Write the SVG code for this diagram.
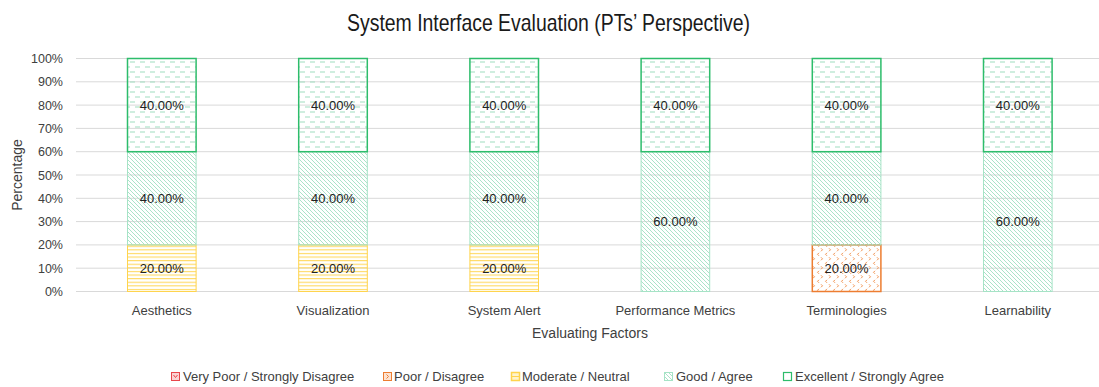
<svg xmlns="http://www.w3.org/2000/svg" width="1099" height="387" viewBox="0 0 1099 387">
<defs>
<pattern id="pExc" patternUnits="userSpaceOnUse" width="10" height="10">
<rect x="0" y="1.5" width="5" height="1" fill="#9FDDBF"/>
<rect x="5" y="6.5" width="5" height="1" fill="#9FDDBF"/>
</pattern>
<pattern id="pGood" patternUnits="userSpaceOnUse" width="4" height="4">
<path d="M0,0 L4,4 M-1,3 L1,5 M3,-1 L5,1" stroke="#A2E0C3" stroke-width="0.9"/>
</pattern>
<pattern id="pMod" patternUnits="userSpaceOnUse" width="4" height="3.6">
<rect x="0" y="1" width="4" height="1" fill="#FFD54F"/>
</pattern>
<pattern id="pPoor" patternUnits="userSpaceOnUse" width="8" height="9">
<path d="M3,0.8 L1.5,2.3 L3,3.8 M5,5.3 L6.5,6.8 L5,8.3" fill="none" stroke="#F0914E" stroke-width="1"/>
</pattern>
<pattern id="pVPoor" patternUnits="userSpaceOnUse" width="8" height="8">
<rect width="8" height="8" fill="#FBD3D3"/>
</pattern>
</defs>
<style>
.grid{stroke:#D9D9D9;stroke-width:1}
.tick{font-family:"Liberation Sans",Arial,sans-serif;font-size:12.5px;fill:#404040;text-anchor:end}
.cat{font-family:"Liberation Sans",Arial,sans-serif;font-size:13px;fill:#404040;text-anchor:middle}
.axt{font-family:"Liberation Sans",Arial,sans-serif;font-size:14px;fill:#404040;text-anchor:middle}
.dl{font-family:"Liberation Sans",Arial,sans-serif;font-size:13px;fill:#222;text-anchor:middle}
.leg{font-family:"Liberation Sans",Arial,sans-serif;font-size:13px;fill:#404040}
.exc{fill:url(#pExc);stroke:#2DBD6B;stroke-width:1.5}
.good{fill:url(#pGood);stroke:#A6E3C6;stroke-width:1}
.mod{fill:url(#pMod);stroke:#FFD44D;stroke-width:1}
.poor{fill:url(#pPoor);stroke:#ED7D31;stroke-width:1.5}
.vpoor{fill:url(#pVPoor);stroke:#E8474C;stroke-width:1}
</style>
<rect width="1099" height="387" fill="#FFFFFF"/>
<text x="548.5" y="30.5" font-family="'Liberation Sans',Arial,sans-serif" font-size="24" fill="#1a1a1a" text-anchor="middle" textLength="403" lengthAdjust="spacingAndGlyphs">System Interface Evaluation (PTs’ Perspective)</text>
<g id="grid">
<line class="grid" x1="76" y1="58.5" x2="1099" y2="58.5"/>
<line class="grid" x1="76" y1="81.8" x2="1099" y2="81.8"/>
<line class="grid" x1="76" y1="105.1" x2="1099" y2="105.1"/>
<line class="grid" x1="76" y1="128.4" x2="1099" y2="128.4"/>
<line class="grid" x1="76" y1="151.7" x2="1099" y2="151.7"/>
<line class="grid" x1="76" y1="175" x2="1099" y2="175"/>
<line class="grid" x1="76" y1="198.3" x2="1099" y2="198.3"/>
<line class="grid" x1="76" y1="221.6" x2="1099" y2="221.6"/>
<line class="grid" x1="76" y1="244.9" x2="1099" y2="244.9"/>
<line class="grid" x1="76" y1="268.2" x2="1099" y2="268.2"/>
<line class="grid" x1="76" y1="291.5" x2="1099" y2="291.5"/>
</g>
<g id="y-axis">
<text class="tick" x="63" y="63">100%</text>
<text class="tick" x="63" y="86.3">90%</text>
<text class="tick" x="63" y="109.6">80%</text>
<text class="tick" x="63" y="132.9">70%</text>
<text class="tick" x="63" y="156.2">60%</text>
<text class="tick" x="63" y="179.5">50%</text>
<text class="tick" x="63" y="202.8">40%</text>
<text class="tick" x="63" y="226.1">30%</text>
<text class="tick" x="63" y="249.4">20%</text>
<text class="tick" x="63" y="272.7">10%</text>
<text class="tick" x="63" y="296">0%</text>
<text class="axt" transform="translate(22,175) rotate(-90)">Percentage</text>
</g>
<g id="x-axis">
<text class="cat" x="161.8" y="315">Aesthetics</text>
<text class="cat" x="333" y="315">Visualization</text>
<text class="cat" x="504.2" y="315">System Alert</text>
<text class="cat" x="675.4" y="315">Performance Metrics</text>
<text class="cat" x="846.6" y="315">Terminologies</text>
<text class="cat" x="1017.8" y="315">Learnability</text>
<text class="axt" x="590" y="338">Evaluating Factors</text>
</g>
<g id="bar-aesthetics">
<rect class="mod" x="127.5" y="244.9" width="68.6" height="46.6"/>
<rect class="good" x="127.5" y="151.7" width="68.6" height="93.2"/>
<rect class="exc" x="127.5" y="58.5" width="68.6" height="93.2"/>
<text class="dl" x="161.8" y="272.8">20.00%</text>
<text class="dl" x="161.8" y="202.9">40.00%</text>
<text class="dl" x="161.8" y="109.7">40.00%</text>
</g>
<g id="bar-visualization">
<rect class="mod" x="298.7" y="244.9" width="68.6" height="46.6"/>
<rect class="good" x="298.7" y="151.7" width="68.6" height="93.2"/>
<rect class="exc" x="298.7" y="58.5" width="68.6" height="93.2"/>
<text class="dl" x="333" y="272.8">20.00%</text>
<text class="dl" x="333" y="202.9">40.00%</text>
<text class="dl" x="333" y="109.7">40.00%</text>
</g>
<g id="bar-system-alert">
<rect class="mod" x="469.9" y="244.9" width="68.6" height="46.6"/>
<rect class="good" x="469.9" y="151.7" width="68.6" height="93.2"/>
<rect class="exc" x="469.9" y="58.5" width="68.6" height="93.2"/>
<text class="dl" x="504.2" y="272.8">20.00%</text>
<text class="dl" x="504.2" y="202.9">40.00%</text>
<text class="dl" x="504.2" y="109.7">40.00%</text>
</g>
<g id="bar-performance-metrics">
<rect class="good" x="641.1" y="151.7" width="68.6" height="139.8"/>
<rect class="exc" x="641.1" y="58.5" width="68.6" height="93.2"/>
<text class="dl" x="675.4" y="226.2">60.00%</text>
<text class="dl" x="675.4" y="109.7">40.00%</text>
</g>
<g id="bar-terminologies">
<rect class="poor" x="812.3" y="244.9" width="68.6" height="46.6"/>
<rect class="good" x="812.3" y="151.7" width="68.6" height="93.2"/>
<rect class="exc" x="812.3" y="58.5" width="68.6" height="93.2"/>
<text class="dl" x="846.6" y="272.8">20.00%</text>
<text class="dl" x="846.6" y="202.9">40.00%</text>
<text class="dl" x="846.6" y="109.7">40.00%</text>
</g>
<g id="bar-learnability">
<rect class="good" x="983.5" y="151.7" width="68.6" height="139.8"/>
<rect class="exc" x="983.5" y="58.5" width="68.6" height="93.2"/>
<text class="dl" x="1017.8" y="226.2">60.00%</text>
<text class="dl" x="1017.8" y="109.7">40.00%</text>
</g>
<g id="legend">
<rect class="vpoor" x="171.5" y="372.5" width="8" height="8"/>
<path d="M173.5,375 L175.5,377.5 L177.5,375" fill="none" stroke="#E8474C" stroke-width="1"/>
<text class="leg" x="183" y="381">Very Poor / Strongly Disagree</text>
<rect x="383.5" y="372.5" width="8" height="8" fill="#FDE3D1" stroke="#ED7D31" stroke-width="1"/>
<path d="M386.5,374.5 L388.5,376.5 L386.5,378.5" fill="none" stroke="#ED7D31" stroke-width="1"/>
<text class="leg" x="394" y="381">Poor / Disagree</text>
<rect x="511.5" y="372.5" width="8" height="8" fill="#FFF4CC" stroke="#FFD44D" stroke-width="1.5"/>
<line x1="512" y1="376.5" x2="519" y2="376.5" stroke="#FFD44D" stroke-width="1"/>
<text class="leg" x="522" y="381">Moderate / Neutral</text>
<rect class="good" x="664.5" y="372.5" width="8" height="8"/>
<text class="leg" x="676" y="381">Good / Agree</text>
<rect x="783.5" y="372.5" width="8" height="8" fill="#FFFFFF" stroke="#2DBD6B" stroke-width="1.2"/>
<text class="leg" x="795" y="381">Excellent / Strongly Agree</text>
</g>
</svg>
